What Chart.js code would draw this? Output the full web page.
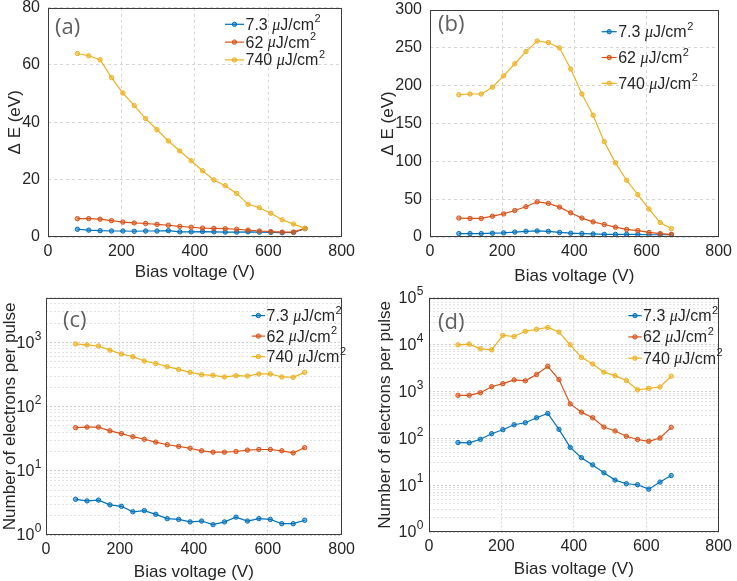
<!DOCTYPE html>
<html>
<head>
<meta charset="utf-8">
<script src="https://cdn.jsdelivr.net/npm/chart.js@4.4.1/dist/chart.umd.min.js"></script>
<style>
  body { margin: 0; width: 737px; height: 581px; overflow: hidden; position: relative; background: #fff; }
  canvas { position: absolute; }
</style>
</head>
<body>
<canvas id="chartA" width="360" height="293" style="left:0;top:-10px"></canvas>
<canvas id="chartB" width="364" height="297" style="left:373px;top:-10px"></canvas>
<canvas id="chartC" width="360" height="303" style="left:0;top:280px"></canvas>
<canvas id="chartD" width="362" height="300" style="left:375px;top:280px"></canvas>
<script>
// bias voltage (V)
const volts21 = [80, 111, 142, 173, 204, 235, 266, 297, 328, 359, 390, 421, 452, 483, 514, 545, 576, 607, 638, 669, 700];
const volts20 = [80, 111, 142, 173, 204, 235, 266, 297, 328, 359, 390, 421, 452, 483, 514, 545, 576, 607, 638, 669];

const fluences = ['7.3', '62', '740'];
const xTicks = [0, 200, 400, 600, 800];

// (a) energy spread, eV
const dEa_low = [2.7, 2.4, 2.2, 2.1, 2.1, 2.0, 2.1, 2.1, 2.2, 1.8, 1.8, 1.9, 1.8, 1.7, 1.7, 1.8, 1.7, 1.6, 1.5, 1.6, 2.9];
const dEa_mid = [6.4, 6.4, 6.2, 5.7, 5.2, 4.9, 4.7, 4.4, 4.1, 3.7, 3.4, 3.1, 3.0, 2.9, 2.7, 2.4, 2.1, 1.9, 1.7, 1.7, 3.0];
const dEa_high = [64, 63.2, 61.8, 55.6, 50.2, 45.8, 41.3, 37.4, 33.5, 30, 26.6, 23.1, 19.9, 17.9, 15.2, 11.4, 10.2, 8.3, 6.0, 4.5, 3.0];

// (b) energy spread, eV
const dEb_low = [4.5, 4.5, 4.5, 5, 5.5, 6.5, 7.5, 8, 7.5, 6, 5, 4.5, 4, 3.5, 3.5, 3.5, 3.5, 3, 3, 3];
const dEb_mid = [25, 24.5, 24.5, 27.5, 30.5, 35, 40, 46.5, 44.5, 39.5, 32, 25, 20, 16.5, 13, 10, 8.5, 6, 4.5, 3.5];
const dEb_high = [188, 189, 189, 198, 213, 229, 245, 259, 257, 250, 222, 189, 161, 126, 98, 75, 56, 37, 19, 11];

// (c) electrons per pulse
const nc_low = [3.6, 3.4, 3.5, 2.95, 2.8, 2.3, 2.4, 2.1, 1.8, 1.75, 1.6, 1.65, 1.45, 1.6, 1.9, 1.65, 1.8, 1.75, 1.5, 1.5, 1.7];
const nc_mid = [47, 48, 48, 42, 38, 34, 31, 28, 25.5, 24, 22.5, 20.5, 19.5, 19.5, 20, 21, 21.5, 21.5, 20.5, 19, 23];
const nc_high = [950, 920, 880, 760, 660, 600, 515, 470, 420, 380, 342, 315, 308, 290, 304, 300, 323, 323, 290, 286, 342];

// (d) electrons per pulse
const nd_low = [81, 80, 95, 125, 152, 194, 214, 273, 338, 155, 64, 38.5, 27, 18.3, 12.8, 10.7, 10.2, 8.2, 11.6, 16];
const nd_mid = [823, 823, 937, 1256, 1460, 1760, 1680, 2285, 3430, 1780, 540, 360, 273, 173, 143, 110, 94, 86, 101, 171];
const nd_high = [9840, 10170, 8090, 7700, 15700, 14800, 19100, 21100, 23100, 18400, 9840, 5310, 3840, 2570, 2160, 1700, 1080, 1160, 1240, 2100];

const colors = ['#0072BD', '#D95319', '#EDB120'];
const fillColors = ['rgba(0,114,189,0.55)', 'rgba(217,83,25,0.55)', 'rgba(237,177,32,0.55)'];
const textColor = '#262626';

Chart.defaults.font.family = '"Liberation Sans", Arial, sans-serif';
Chart.defaults.color = textColor;

function isPow10(v) {
  const l = Math.log10(v);
  return Math.abs(l - Math.round(l)) < 1e-9;
}

function logTicks(max) {
  const out = [];
  for (let p = 1; p <= max * 1.0001; p *= 10) {
    for (let k = 1; k <= 9; k++) {
      if (k * p <= max * 1.0001) out.push(k * p);
    }
  }
  return out;
}

function series(volts, vals, i) {
  return {
    label: fluences[i],
    data: volts.map((x, j) => ({ x: x, y: vals[j] })),
    borderColor: colors[i],
    backgroundColor: colors[i],
    pointBackgroundColor: fillColors[i],
    pointBorderColor: colors[i],
    borderWidth: 1.2,
    pointRadius: 2.2,
    pointBorderWidth: 1,
    tension: 0,
    order: 3 - i
  };
}

function drawRich(ctx, x, y, value) {
  ctx.textBaseline = 'middle';
  ctx.textAlign = 'left';
  ctx.fillStyle = textColor;
  ctx.font = '16px "Liberation Sans"';
  ctx.fillText(value + ' ', x, y);
  x += ctx.measureText(value + ' ').width;
  ctx.font = 'italic 16px "Liberation Serif"';
  ctx.fillText('\u03BC', x, y);
  x += ctx.measureText('\u03BC').width;
  ctx.font = '16px "Liberation Sans"';
  ctx.fillText('J/cm', x, y);
  x += ctx.measureText('J/cm').width;
  ctx.font = '11px "Liberation Sans"';
  ctx.fillText('2', x + 0.5, y - 6);
}

// power-of-ten labels with a real superscript, placed by the y scale
function drawLogLabels(chart, gap) {
  const { ctx, chartArea: a } = chart;
  const ys = chart.scales.y;
  ctx.textBaseline = 'middle';
  ctx.textAlign = 'left';
  ctx.fillStyle = textColor;
  ys.ticks.forEach((t) => {
    if (!isPow10(t.value)) return;
    const exp = String(Math.round(Math.log10(t.value)));
    const y = ys.getPixelForValue(t.value);
    ctx.font = '16px "Liberation Sans"';
    const w10 = ctx.measureText('10').width;
    ctx.font = '12px "Liberation Sans"';
    const wExp = ctx.measureText(exp).width;
    const x = a.left - gap - wExp - w10 - 0.5;
    ctx.font = '16px "Liberation Sans"';
    ctx.fillText('10', x, y + 1);
    ctx.font = '12px "Liberation Sans"';
    ctx.fillText(exp, x + w10 + 0.5, y - 6);
  });
}

const panelDeco = {
  id: 'panelDeco',
  afterDraw(chart, args, opts) {
    const { ctx, chartArea: a } = chart;
    ctx.save();
    // frame
    ctx.strokeStyle = '#3c3c3c';
    ctx.lineWidth = 1;
    const l = Math.round(a.left) + 0.5, t = Math.round(a.top) + 0.5;
    const r = Math.round(a.right) - 0.5, b = Math.round(a.bottom) - 0.5;
    ctx.strokeRect(l, t, r - l, b - t);
    if (opts.logGap) drawLogLabels(chart, opts.logGap);
    // panel letter
    ctx.font = '22px "Open Sans"';
    ctx.fillStyle = '#606060';
    ctx.textBaseline = 'middle';
    ctx.textAlign = 'left';
    ctx.fillText(opts.label, a.left + opts.lx, a.top + opts.ly);
    // legend
    chart.data.datasets.forEach((ds, i) => {
      const y = a.top + opts.y0 + i * opts.dy;
      const x0 = a.left + opts.x;
      ctx.strokeStyle = ds.borderColor;
      ctx.lineWidth = 1.2;
      ctx.beginPath();
      ctx.moveTo(x0, y);
      ctx.lineTo(x0 + opts.len, y);
      ctx.stroke();
      ctx.beginPath();
      ctx.arc(x0 + opts.len / 2, y, 2.2, 0, Math.PI * 2);
      ctx.fillStyle = ds.pointBackgroundColor;
      ctx.fill();
      ctx.lineWidth = 1;
      ctx.stroke();
      drawRich(ctx, x0 + opts.len + 1.5, y + 1, ds.label);
    });
    ctx.restore();
  }
};

function makeChart(id, cfg) {
  const isLog = cfg.log;
  const yScale = {
    min: isLog ? 1 : 0,
    max: cfg.yMax,
    afterFit: (s) => { s.width = cfg.yWidth; },
    border: { display: false, dash: isLog ? [2, 2] : [3, 3] },
    grid: {
      drawTicks: false,
      lineWidth: 1,
      color: (c) => {
        if (!isLog) return '#d6d6d6';
        return c.tick && isPow10(c.tick.value) ? '#cfcfcf' : '#e2e2e2';
      }
    },
    ticks: {
      padding: 8,
      font: { size: 16 },
      color: textColor,
      autoSkip: false
    },
    title: {
      display: true,
      text: cfg.yTitle,
      font: { size: 17 },
      color: textColor,
      padding: { top: cfg.yTitlePad, bottom: 0 }
    }
  };
  if (isLog) {
    yScale.type = 'logarithmic';
    yScale.afterBuildTicks = (s) => { s.ticks = logTicks(cfg.yMax).map(v => ({ value: v })); };
    yScale.ticks.callback = () => '';
  } else {
    yScale.type = 'linear';
    yScale.ticks.stepSize = cfg.yStep;
  }
  return new Chart(document.getElementById(id), {
    type: 'line',
    data: { datasets: cfg.sets },
    options: {
      responsive: false,
      animation: false,
      layout: { padding: { top: cfg.padTop, right: cfg.padRight, bottom: 0, left: 0 } },
      plugins: {
        legend: { display: false },
        tooltip: { enabled: false },
        panelDeco: cfg.deco
      },
      scales: {
        x: {
          type: 'linear',
          min: 0,
          max: 800,
          afterFit: (s) => { s.height = cfg.xHeight; },
          afterBuildTicks: (s) => { s.ticks = xTicks.map(v => ({ value: v })); },
          border: { display: false, dash: isLog ? [2, 2] : [3, 3] },
          grid: { drawTicks: false, color: '#d6d6d6', lineWidth: 1 },
          ticks: { padding: 5, font: { size: 16 }, color: textColor, maxRotation: 0 },
          title: {
            display: true,
            text: 'Bias voltage (V)',
            font: { size: 17 },
            color: textColor,
            padding: { top: 0, bottom: 0 }
          }
        },
        y: yScale
      }
    },
    plugins: [panelDeco]
  });
}

makeChart('chartA', {
  sets: [series(volts21, dEa_low, 0), series(volts21, dEa_mid, 1), series(volts21, dEa_high, 2)],
  yMax: 80, yStep: 20, yWidth: 48, xHeight: 46, padTop: 16, padRight: 16, yTitlePad: 5,
  yTitle: '\u0394 E (eV)',
  deco: { label: '(a)', lx: 7, ly: 20, x: 177, y0: 16.7, dy: 17.8, len: 19 }
});

makeChart('chartB', {
  sets: [series(volts20, dEb_low, 0), series(volts20, dEb_mid, 1), series(volts20, dEb_high, 2)],
  yMax: 300, yStep: 50, yWidth: 57, xHeight: 50, padTop: 20, padRight: 14, yTitlePad: 5,
  yTitle: '\u0394 E (eV)',
  deco: { label: '(b)', lx: 8, ly: 15, x: 171.7, y0: 21.7, dy: 25.8, len: 15 }
});

makeChart('chartC', {
  sets: [series(volts21, nc_low, 0), series(volts21, nc_mid, 1), series(volts21, nc_high, 2)],
  log: true, yMax: 5000, yWidth: 46, xHeight: 48, padTop: 16, padRight: 16, yTitlePad: 0,
  yTitle: 'Number of electrons per pulse',
  deco: { label: '(c)', lx: 17, ly: 23, x: 205.7, y0: 18, dy: 20.5, len: 13.3, logGap: 4.5 }
});

makeChart('chartD', {
  sets: [series(volts20, nd_low, 0), series(volts20, nd_mid, 1), series(volts20, nd_high, 2)],
  log: true, yMax: 100000, yWidth: 54, xHeight: 48, padTop: 16, padRight: 14, yTitlePad: 0,
  yTitle: 'Number of electrons per pulse',
  deco: { label: '(d)', lx: 9, ly: 25, x: 199.3, y0: 18, dy: 21.3, len: 13.3, logGap: 5.5 }
});
</script>
</body>
</html>
